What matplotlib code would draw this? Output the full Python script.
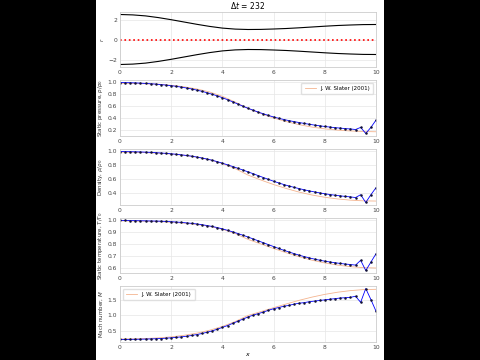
import matplotlib
matplotlib.use('Agg')
import matplotlib.pyplot as plt
from matplotlib.patches import Rectangle
import numpy as np

# nozzle contour
x_wall = [0.0, 0.5, 1.0, 1.5, 2.0, 2.5, 3.0, 3.5, 4.0, 4.5, 5.0,
          5.5, 6.0, 6.5, 7.0, 7.5, 8.0, 8.5, 9.0, 9.5, 10.0]
r_wall = [2.50, 2.46, 2.36, 2.19, 1.98, 1.75, 1.52, 1.31, 1.14, 1.04, 1.00,
          1.01, 1.05, 1.10, 1.17, 1.25, 1.33, 1.40, 1.45, 1.49, 1.50]

# J. W. Slater (2001) reference solution
x_ref = x_wall
p_ref = [0.975, 0.974, 0.970, 0.962, 0.944, 0.920, 0.884, 0.834, 0.762, 0.668, 0.560,
         0.480, 0.405, 0.345, 0.295, 0.255, 0.226, 0.205, 0.191, 0.182, 0.178]
rho_ref = [0.985, 0.984, 0.980, 0.972, 0.960, 0.942, 0.916, 0.878, 0.824, 0.752, 0.660,
           0.590, 0.525, 0.468, 0.417, 0.376, 0.344, 0.320, 0.303, 0.293, 0.290]
T_ref = [0.995, 0.994, 0.992, 0.989, 0.984, 0.976, 0.965, 0.949, 0.925, 0.889, 0.840,
         0.802, 0.764, 0.728, 0.695, 0.666, 0.643, 0.625, 0.612, 0.604, 0.601]
M_ref = [0.230, 0.233, 0.245, 0.266, 0.300, 0.350, 0.420, 0.516, 0.642, 0.801, 1.000,
         1.124, 1.254, 1.377, 1.495, 1.600, 1.689, 1.760, 1.812, 1.845, 1.855]

# simulation at dt = 232
x_sim = [0.0, 0.2, 0.4, 0.6, 0.8, 1.0, 1.2, 1.4, 1.6, 1.8,
         2.0, 2.2, 2.4, 2.6, 2.8, 3.0, 3.2, 3.4, 3.6, 3.8,
         4.0, 4.2, 4.4, 4.6, 4.8, 5.0, 5.2, 5.4, 5.6, 5.8,
         6.0, 6.2, 6.4, 6.6, 6.8, 7.0, 7.2, 7.4, 7.6, 7.8,
         8.0, 8.2, 8.4, 8.6, 8.8, 9.0, 9.2, 9.4, 9.6, 9.8, 10.0]
p_sim = [0.990, 0.989, 0.987, 0.984, 0.980, 0.975, 0.970, 0.964, 0.956, 0.948,
         0.938, 0.927, 0.914, 0.900, 0.884, 0.865, 0.845, 0.822, 0.797, 0.770,
         0.740, 0.707, 0.672, 0.636, 0.600, 0.566, 0.534, 0.503, 0.474, 0.447,
         0.422, 0.400, 0.380, 0.362, 0.345, 0.330, 0.315, 0.301, 0.288, 0.276,
         0.265, 0.255, 0.246, 0.238, 0.230, 0.224, 0.215, 0.250, 0.150, 0.250, 0.370]
rho_sim = [0.995, 0.994, 0.993, 0.991, 0.989, 0.986, 0.983, 0.979, 0.974, 0.969,
           0.963, 0.956, 0.948, 0.939, 0.929, 0.917, 0.903, 0.888, 0.871, 0.851,
           0.829, 0.806, 0.782, 0.757, 0.732, 0.706, 0.679, 0.652, 0.625, 0.598,
           0.572, 0.548, 0.525, 0.504, 0.485, 0.467, 0.450, 0.434, 0.420, 0.406,
           0.394, 0.383, 0.373, 0.364, 0.356, 0.349, 0.340, 0.380, 0.270, 0.380, 0.480]
T_sim = [0.998, 0.998, 0.997, 0.997, 0.996, 0.995, 0.994, 0.993, 0.992, 0.990,
         0.988, 0.985, 0.982, 0.978, 0.974, 0.969, 0.963, 0.956, 0.948, 0.939,
         0.928, 0.916, 0.903, 0.889, 0.875, 0.860, 0.844, 0.828, 0.812, 0.796,
         0.780, 0.764, 0.749, 0.735, 0.721, 0.708, 0.696, 0.685, 0.675, 0.666,
         0.658, 0.651, 0.645, 0.639, 0.634, 0.630, 0.625, 0.665, 0.580, 0.650, 0.720]
M_sim = [0.215, 0.216, 0.218, 0.220, 0.223, 0.227, 0.232, 0.238, 0.246, 0.256,
         0.268, 0.283, 0.300, 0.320, 0.345, 0.375, 0.410, 0.450, 0.495, 0.550,
         0.610, 0.670, 0.740, 0.810, 0.880, 0.950, 1.010, 1.060, 1.110, 1.170,
         1.220, 1.260, 1.300, 1.330, 1.370, 1.400, 1.420, 1.450, 1.470, 1.490,
         1.510, 1.530, 1.550, 1.570, 1.580, 1.590, 1.630, 1.430, 1.880, 1.520, 1.140]

xticks = [0, 2, 4, 6, 8, 10]

plt.rcParams['font.family'] = ['DejaVu Sans']
plt.rcParams['axes.edgecolor'] = '#cccccc'
plt.rcParams['axes.linewidth'] = 0.6
plt.rcParams['grid.color'] = '#e6e6e6'
plt.rcParams['grid.linewidth'] = 0.5
plt.rcParams['xtick.major.size'] = 0
plt.rcParams['ytick.major.size'] = 0
plt.rcParams['xtick.major.pad'] = 2
plt.rcParams['ytick.major.pad'] = 2
plt.rcParams['xtick.labelsize'] = 4.3
plt.rcParams['ytick.labelsize'] = 4.3
plt.rcParams['xtick.color'] = '#444444'
plt.rcParams['ytick.color'] = '#444444'

fig = plt.figure(figsize=(4.8, 3.6), dpi=100, facecolor='black')
fig.add_artist(Rectangle((96 / 480, 0), 288 / 480, 1, transform=fig.transFigure,
                         facecolor='white', edgecolor='none', zorder=0))

# panel layout in pixels (top, bottom)
rows = [(12, 67), (80, 136), (149, 205), (218, 273), (286, 342)]
axes = []
for top, bot in rows:
    ax = fig.add_axes([120 / 480, 1 - bot / 360, 256 / 480, (bot - top) / 360])
    ax.set_facecolor('white')
    ax.grid(True)
    ax.set_axisbelow(True)
    ax.set_xlim(0, 10)
    ax.set_xticks(xticks)
    axes.append(ax)

lab = dict(fontsize=4.0, color='#333333', labelpad=2)

ax = axes[0]
ax.plot(x_wall, r_wall, color='black', lw=0.8)
ax.plot(x_wall, [-v for v in r_wall], color='black', lw=0.8)
ax.plot([0, 10], [0, 0], ':', color='red', lw=1.2)
ax.set_yticks([-2, 0, 2])
ax.set_ylabel('$r$', **lab)
ax.set_title(r'$\Delta t$ = 232', fontsize=5.5, pad=2)

series = [(p_sim, p_ref, 'Static pressure, $p/p_0$'),
          (rho_sim, rho_ref, r'Density, $\rho/\rho_0$'),
          (T_sim, T_ref, 'Static temperature, $T/T_0$'),
          (M_sim, M_ref, 'Mach number, $M$')]
for ax, (ys, yr, name) in zip(axes[1:], series):
    ax.plot(x_ref, yr, color='#f4b48f', lw=0.6, label='J. W. Slater (2001)')
    ax.plot(x_sim, ys, color='blue', lw=0.6)
    ax.plot(x_sim, ys, '.', color='#111133', ms=1.6)
    ax.set_ylabel(name, **lab)

axes[1].set_yticks([0.2, 0.4, 0.6, 0.8, 1.0])
axes[2].set_yticks([0.4, 0.6, 0.8, 1.0])
axes[3].set_yticks([0.6, 0.7, 0.8, 0.9, 1.0])
axes[4].set_yticks([0.5, 1.0, 1.5])

for ax, loc in [(axes[1], 'upper right'), (axes[4], 'upper left')]:
    ax.legend(loc=loc, fontsize=4.0, frameon=True, framealpha=0.9,
              edgecolor='#dddddd', handlelength=2.0, borderpad=0.6)

axes[4].set_xlabel('$x$', fontsize=4.5, labelpad=1)

fig.savefig('out.png', dpi=100, facecolor=fig.get_facecolor())
